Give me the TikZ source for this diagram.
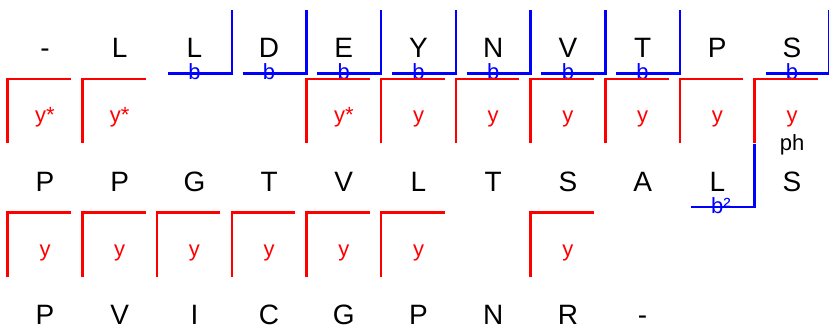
\documentclass[tikz,border=0pt]{standalone}
\usepackage{fontspec}
\setmainfont{Liberation Sans}
\begin{document}
\begin{tikzpicture}[x=1pt,y=-1pt,
  res/.style={anchor=base,font=\fontsize{28}{30}\selectfont,inner sep=0pt},
  lab/.style={anchor=base,font=\fontsize{22}{24}\selectfont,inner sep=0pt},
  bline/.style={draw=blue,line width=2.5pt,line join=miter},
  yline/.style={draw=red,line width=2.5pt,line join=miter}]
\useasboundingbox (0,0) rectangle (829,326);
% residues
\foreach \t [count=\i from 0] in {-,L,L,D,E,Y,N,V,T,P,S}
  \node[res] (ra\i) at ({45+74.7*\i},57.5) {\t};
\foreach \t [count=\i from 0] in {P,P,G,T,V,L,T,S,A,L,S}
  \node[res] (rb\i) at ({45+74.7*\i},191) {\t};
\foreach \t [count=\i from 0] in {P,V,I,C,G,P,N,R,-}
  \node[res] (rc\i) at ({45+74.7*\i},324.5) {\t};
% row 1 b ions
\foreach \i in {2,3,4,5,6,7,8,10}{
  \coordinate (ba\i) at ({45+74.7*\i-26.5},73.5);
  \draw[bline] (ba\i) -- ++(63.85,0) -- ++(0,-63.5);
  \node[lab,text=blue] (bla\i) at ({45+74.7*\i},80) {b};
}
% row 1 y ions
\foreach \i/\t in {0/y*,1/y*,4/y*,5/y,6/y,7/y,8/y,9/y,10/y}{
  \coordinate (ya\i) at ({45+74.7*\i+26},79);
  \draw[yline] (ya\i) -- ++(-63.35,0) -- ++(0,64);
  \node[lab,text=red] (yla\i) at ({45+74.7*\i},122.5) {\t};
}
\node[lab] (ph) at ({45+74.7*10},150) {ph};
% row 2 b ion
\coordinate (bb9) at ({45+74.7*9-26.5},207);
\draw[bline] (bb9) -- ++(63.85,0) -- ++(0,-63.5);
\node[lab,text=blue] (blb9) at ({45+74.7*9},213.5) {b\rlap{²}};
% row 2 y ions
\foreach \i in {0,1,2,3,4,5,7}{
  \coordinate (yb\i) at ({45+74.7*\i+26},212.5);
  \draw[yline] (yb\i) -- ++(-63.35,0) -- ++(0,64);
  \node[lab,text=red] (ylb\i) at ({45+74.7*\i},256) {y};
}
\end{tikzpicture}
\end{document}
